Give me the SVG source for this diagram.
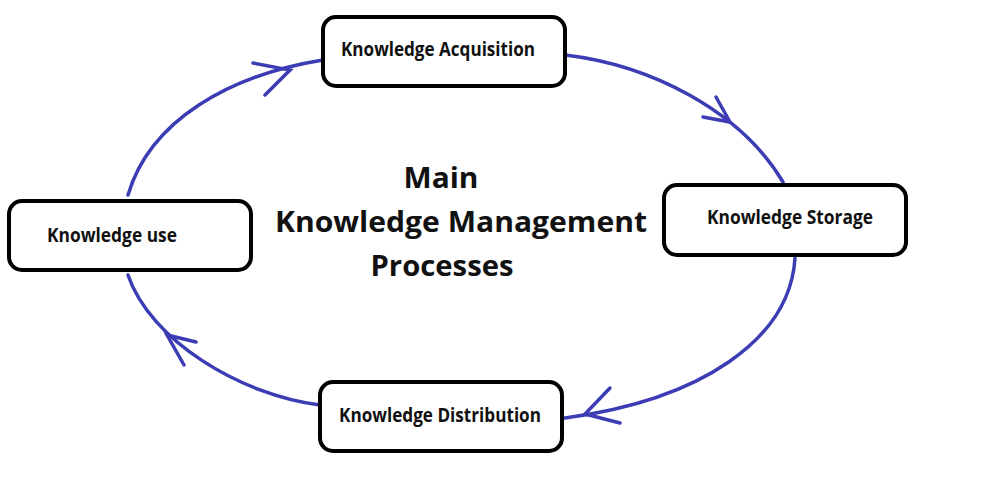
<svg xmlns="http://www.w3.org/2000/svg" width="1000" height="500" viewBox="0 0 1000 500">
<style>
.box{fill:#fff;stroke:#000;stroke-width:4}
.lbl{font-family:"Open Sans","Liberation Sans",sans-serif;font-weight:700;font-size:19px;fill:#111}
.title{font-family:"Open Sans","Liberation Sans",sans-serif;font-weight:700;font-size:29px;fill:#111;text-anchor:middle}
.con{fill:none;stroke:#3c3cb4;stroke-width:3.5;stroke-linecap:round}
</style>
<rect width="1000" height="500" fill="#fff"/>
<g id="connectors">
<path class="con" d="M128,195 C150,120 230,75 323,60"/>
<path class="con" d="M253,63 L290,70 L265,95"/>
<path class="con" d="M565,55 C650,65 740,110 783,182"/>
<path class="con" d="M716,97 L730,122 L703,117"/>
<path class="con" d="M795,258 C790,340 700,400 565,418"/>
<path class="con" d="M610,388 L585,414 L620,423"/>
<path class="con" d="M320,405 C240,395 150,340 128,275"/>
<path class="con" d="M196,342 L167,335 L184,365"/>
</g>
<g id="acquisition">
<rect class="box" x="323" y="17" width="242" height="69" rx="13"/>
<text class="lbl" x="341" y="56" textLength="194" lengthAdjust="spacingAndGlyphs">Knowledge Acquisition</text>
</g>
<g id="storage">
<rect class="box" x="664" y="185" width="242" height="70" rx="13"/>
<text class="lbl" x="707" y="224" textLength="166" lengthAdjust="spacingAndGlyphs">Knowledge Storage</text>
</g>
<g id="distribution">
<rect class="box" x="320" y="382" width="242" height="69" rx="13"/>
<text class="lbl" x="339" y="422" textLength="202" lengthAdjust="spacingAndGlyphs">Knowledge Distribution</text>
</g>
<g id="use">
<rect class="box" x="9" y="201" width="242" height="69" rx="13"/>
<text class="lbl" x="47" y="242" textLength="130" lengthAdjust="spacingAndGlyphs">Knowledge use</text>
</g>
<g id="title">
<text class="title" x="441" y="188" textLength="75" lengthAdjust="spacingAndGlyphs">Main</text>
<text class="title" x="461" y="232" textLength="372" lengthAdjust="spacingAndGlyphs">Knowledge Management</text>
<text class="title" x="442" y="276" textLength="143" lengthAdjust="spacingAndGlyphs">Processes</text>
</g>
</svg>
